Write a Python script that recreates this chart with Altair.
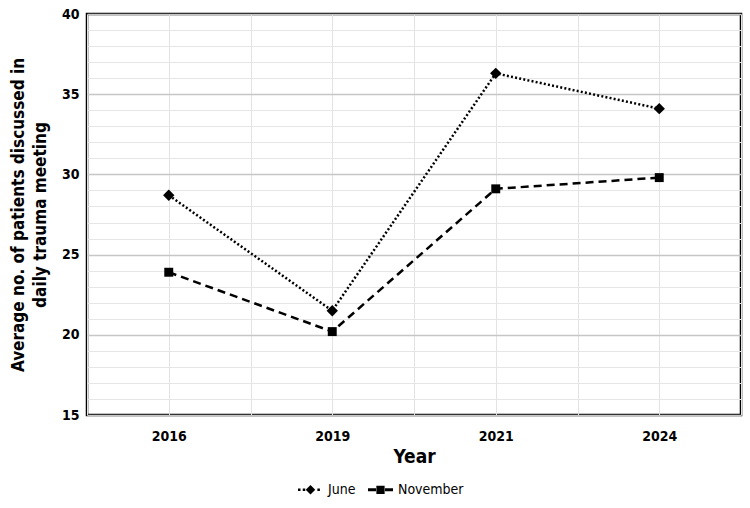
import json

import altair as alt
import pandas as pd

# Survey years and the average number of patients per meeting for each month
years = ["2016", "2019", "2021", "2024"]
june = [28.7, 21.5, 36.3, 34.1]
november = [23.9, 20.2, 29.1, 29.8]
series_names = ["June", "November"]

rows = []
for i, yr in enumerate(years):
    rows.append({"idx": i, "year": yr, "series": "June", "value": june[i]})
    rows.append({"idx": i, "year": yr, "series": "November", "value": november[i]})
df = pd.DataFrame(rows)

FONT = "DejaVu Sans Condensed, Roboto Condensed, Arial Narrow, sans-serif"

# Grid every half category step so that lines fall on category centres and between them
x_grid = [k * 0.5 - 0.5 for k in range(2 * len(years) + 1)]
year_lookup = json.dumps(years)

x_enc = alt.X(
    "idx:Q",
    scale=alt.Scale(domain=[-0.5, len(years) - 0.5], nice=False, zero=False),
    axis=alt.Axis(
        values=x_grid,
        labelExpr=f"datum.value % 1 === 0 ? {year_lookup}[datum.value] : ''",
        labelOverlap=False,
        title="Year",
        ticks=False,
        domain=False,
        gridColor="#e3e3e3",
        gridWidth=1,
        labelFont=FONT,
        labelFontSize=14,
        labelFontWeight="bold",
        labelPadding=14,
        titleFont=FONT,
        titleFontSize=19,
        titleFontWeight="bold",
        titlePadding=4,
    ),
)

y_enc = alt.Y(
    "value:Q",
    scale=alt.Scale(domain=[15, 40], nice=False, zero=False),
    axis=alt.Axis(
        values=list(range(15, 41)),
        labelExpr="datum.value % 5 === 0 ? datum.label : ''",
        labelOverlap=False,
        title=["Average no. of patients discussed in", "daily trauma meeting"],
        ticks=False,
        domain=False,
        gridColor={
            "condition": {"test": "datum.value % 5 === 0", "value": "#c6c6c6"},
            "value": "#e6e6e6",
        },
        gridWidth={
            "condition": {"test": "datum.value % 5 === 0", "value": 1.3},
            "value": 1,
        },
        labelFont=FONT,
        labelFontSize=14,
        labelFontWeight="bold",
        labelPadding=8,
        titleFont=FONT,
        titleFontSize=17,
        titleFontWeight="bold",
        titleLineHeight=22,
        titlePadding=12,
    ),
)

base = alt.Chart(df)

lines = base.mark_line(color="black", strokeWidth=2.5).encode(
    x=x_enc,
    y=y_enc,
    strokeDash=alt.StrokeDash(
        "series:N",
        scale=alt.Scale(domain=series_names, range=[[2, 2.2], [8, 5]]),
        legend=None,
    ),
)

june_pts = (
    base.transform_filter(alt.datum.series == "June")
    .mark_point(shape="diamond", filled=True, color="black", size=130, opacity=1)
    .encode(x=x_enc, y=y_enc)
)

nov_pts = (
    base.transform_filter(alt.datum.series == "November")
    .mark_point(shape="square", filled=True, color="black", size=80, opacity=1)
    .encode(x=x_enc, y=y_enc)
)

# Legend glyphs drawn as filled shapes: line pattern with the marker in the middle
june_glyph = (
    "M-1,-0.1h0.2v0.2h-0.2Z"
    "M-0.62,-0.1h0.2v0.2h-0.2Z"
    "M0.55,-0.1h0.2v0.2h-0.2Z"
    "M0,-0.38L0.38,0L0,0.38L-0.38,0Z"
)
nov_glyph = (
    "M-1,-0.12H-0.36V0.12H-1Z"
    "M0.36,-0.12H1V0.12H0.36Z"
    "M-0.33,-0.33H0.33V0.33H-0.33Z"
)

legend_layer = base.mark_point(
    filled=True, fill="black", stroke="black", strokeWidth=0, opacity=0
).encode(
    x=x_enc,
    y=y_enc,
    shape=alt.Shape(
        "series:N",
        scale=alt.Scale(domain=series_names, range=[june_glyph, nov_glyph]),
        legend=alt.Legend(
            title=None,
            orient="none",
            direction="horizontal",
            legendX=211,
            legendY=463,
            symbolSize=625,
            symbolOpacity=1,
            symbolFillColor="black",
            symbolStrokeWidth=0,
            labelFont=FONT,
            labelFontSize=14,
            labelColor="black",
            labelOffset=5,
            columnPadding=12,
        ),
    ),
)

chart = (
    alt.layer(lines, june_pts, nov_pts, legend_layer)
    .resolve_scale(shape="independent")
    .properties(
        width=654,
        height=401,
        autosize=alt.AutoSizeParams(type="none"),
        padding={"left": 87, "top": 14, "right": 9, "bottom": 93},
        background="white",
    )
    .configure_view(stroke="black", strokeWidth=2.5)
    .configure_axis(labelColor="black", titleColor="black")
)

chart.save("out.html", embed_options={"renderer": "svg", "actions": False})
